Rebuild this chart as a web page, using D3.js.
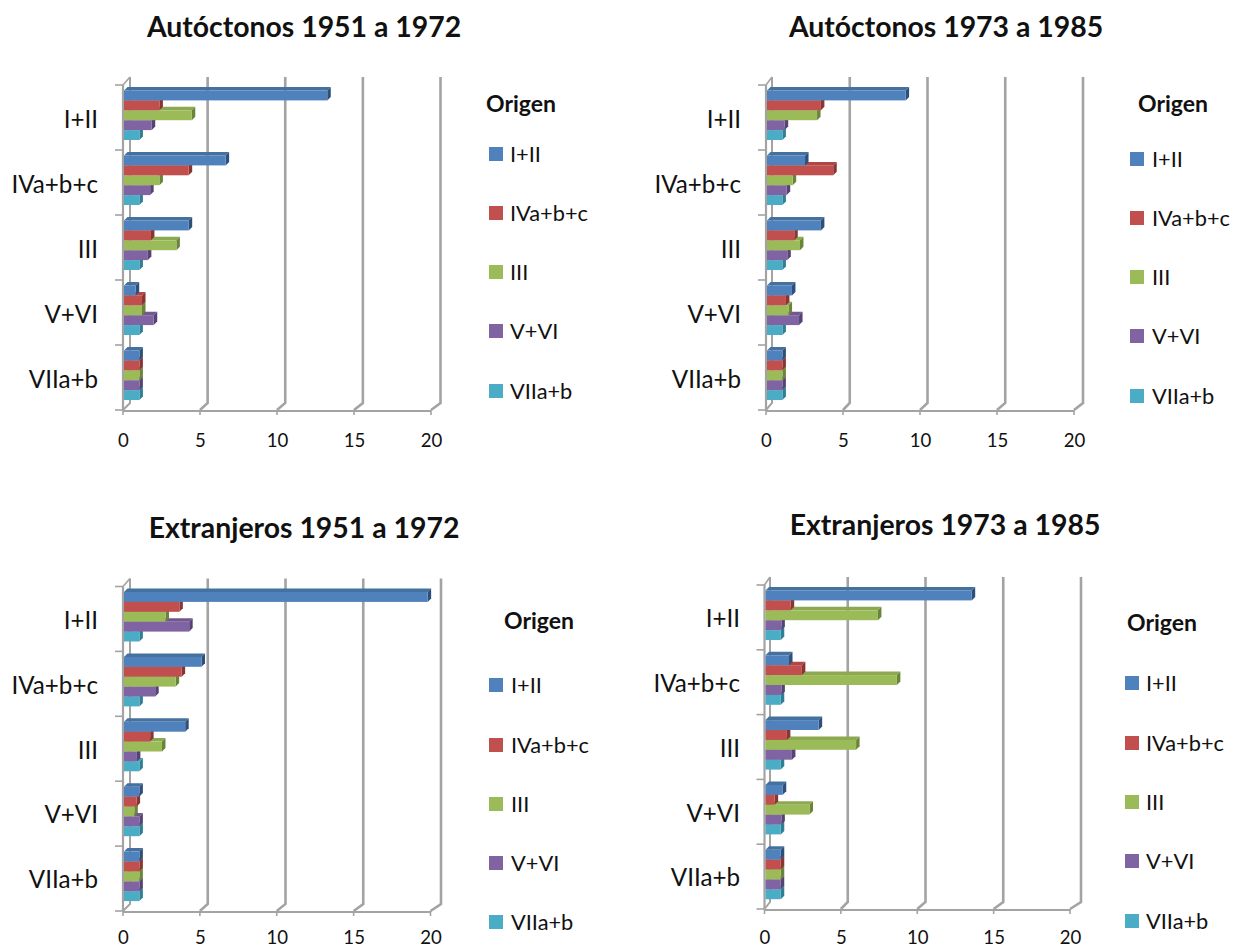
<!DOCTYPE html>
<html><head><meta charset="utf-8">
<script src="https://cdnjs.cloudflare.com/ajax/libs/d3/7.8.5/d3.min.js"></script>
<style>
html,body{margin:0;padding:0;background:#fff}
svg{display:block}
text{font-family:Lato,"Open Sans",sans-serif;fill:#111}
</style></head><body><svg id="c" width="1238" height="948"></svg>
<script>
const categories = ["I+II","IVa+b+c","III","V+VI","VIIa+b"];
const seriesNames = ["I+II","IVa+b+c","III","V+VI","VIIa+b"];
const valueTicks = [0,5,10,15,20];
const titles = ["Autóctonos 1951 a 1972","Autóctonos 1973 a 1985","Extranjeros 1951 a 1972","Extranjeros 1973 a 1985"];
const legendTitle = "Origen";
// rows = categories, columns = series
const autoctonos5172 = [[13.2,2.3,4.4,1.8,1.0],[6.6,4.2,2.3,1.7,1.0],[4.2,1.75,3.4,1.55,1.0],[0.76,1.17,1.17,1.93,1.0],[1,1,1,1,1]];
const autoctonos7385 = [[9.0,3.5,3.25,1.15,1.0],[2.47,4.3,1.67,1.28,1.0],[3.5,1.77,2.14,1.32,1.0],[1.62,1.23,1.4,2.08,1.0],[1,1,1,1,1]];
const extranjeros5172 = [[19.75,3.6,2.7,4.24,1.0],[5.04,3.75,3.36,2.03,1.0],[3.98,1.7,2.47,0.84,1.0],[1.0,0.82,0.67,1.0,1.0],[1,1,1,1,1]];
const extranjeros7385 = [[13.5,1.65,7.36,1.04,1.0],[1.54,2.38,8.6,1.04,1.0],[3.48,1.4,5.93,1.73,1.0],[1.13,0.6,2.88,1.04,1.0],[1,1,1,1,1]];
const datasets = [autoctonos5172,autoctonos7385,extranjeros5172,extranjeros7385];

const front = ["#4F81BD","#C0504D","#9BBB59","#8064A2","#4BACC6"];
const dark  = ["#2F5079","#8A3432","#6B8439","#574373","#2F7E94"];
const topc  = ["#44719F","#AE4744","#8CA951","#71598F","#43A0B8"];

const layouts = [
 {x0:123,x20:431,bx0:130,bx20:440.5,yt:85,yb:410,title:[304,27],lgT:[486,104],lgX:489,lgTx:510,lgY:[154,213,272,331,391],labR:98,labDy:2.5,tickY:447},
 {x0:766,x20:1074,bx0:772,bx20:1083,yt:85,yb:410,title:[946,27],lgT:[1138,104],lgX:1130,lgTx:1152,lgY:[159,218,277,336,396],labR:741,labDy:2.5,tickY:447},
 {x0:123,x20:430.5,bx0:130,bx20:441,yt:586.5,yb:911,title:[304,528],lgT:[504,621],lgX:489,lgTx:511,lgY:[685,745,804,863,922],labR:98,labDy:2,tickY:944},
 {x0:764.5,x20:1070,bx0:770,bx20:1081,yt:585,yb:909,title:[945,525],lgT:[1127,623],lgX:1125,lgTx:1146,lgY:[683,743,802,861,921],labR:740,labDy:2,tickY:944}
];
const svg = d3.select("#c");
const defs = svg.append("defs");
defs.append("filter").attr("id","soft").attr("x","-5%").attr("y","-5%").attr("width","110%").attr("height","110%")
  .append("feGaussianBlur").attr("stdDeviation",0.55);
const GRID="#A3A3A3";
const DEPTH=3.5;

layouts.forEach((L,pi)=>{
  const data=datasets[pi];
  const g=svg.append("g");
  const fx=d3.scaleLinear().domain([0,20]).range([L.x0,L.x20]);
  const bx=d3.scaleLinear().domain([0,20]).range([L.bx0,L.bx20]);
  const band=d3.scaleBand().domain(categories).range([L.yt,L.yb]);
  const floorBack=L.yb-7;
  const topBack=L.yt-8;

  // walls and grid
  const gg=g.append("g").attr("filter","url(#soft)").attr("fill","none").attr("stroke",GRID);
  valueTicks.forEach(t=>{
    gg.append("path").attr("stroke-width",t===0?2:2.6)
      .attr("d",d3.line()([[fx(t),L.yb],[bx(t),floorBack],[bx(t),topBack]]));
    gg.append("line").attr("x1",fx(t)).attr("x2",fx(t)).attr("y1",L.yb).attr("y2",L.yb+5).attr("stroke-width",1.6);
  });
  gg.append("line").attr("x1",fx(0)).attr("x2",fx(20)).attr("y1",L.yb+1).attr("y2",L.yb+1).attr("stroke-width",2);
  gg.append("line").attr("x1",fx(0)).attr("x2",fx(0)).attr("y1",L.yt).attr("y2",L.yb).attr("stroke-width",2.2);
  gg.append("line").attr("x1",fx(0)).attr("x2",bx(0)).attr("y1",L.yt).attr("y2",topBack).attr("stroke-width",1.6);
  const bounds=categories.map(c=>band(c)).concat([L.yb]);
  bounds.forEach(y=>gg.append("line").attr("x1",fx(0)-8).attr("x2",fx(0)).attr("y1",y).attr("y2",y).attr("stroke-width",1.6));

  // bars, lower ones first so the upper fronts overlap their top faces
  const bars=g.append("g").attr("filter","url(#soft)");
  const inner=d3.scaleBand().domain(seriesNames).range([5.5,55]);
  categories.forEach((c,ci)=>{
    for(let si=4;si>=0;si--){
      const v=data[ci][si];
      const x=fx(0)+1, xe=x+v*(fx(1)-fx(0));
      const y=band(c)+inner(seriesNames[si]), h=inner.bandwidth();
      bars.append("path").attr("fill",topc[si])
        .attr("d",d3.line()([[x,y],[x+DEPTH,y-DEPTH],[xe+DEPTH,y-DEPTH],[xe,y]])+"Z");
      bars.append("path").attr("fill",dark[si])
        .attr("d",d3.line()([[xe,y],[xe+DEPTH,y-DEPTH],[xe+DEPTH,y+h-DEPTH],[xe,y+h]])+"Z");
      bars.append("rect").attr("x",x).attr("y",y).attr("width",xe-x).attr("height",h).attr("fill",front[si]);
    }
  });

  // axes text
  const ax=g.append("g").attr("transform",`translate(0,${L.tickY})`)
    .call(d3.axisBottom(fx).tickValues(valueTicks).tickSize(0).tickPadding(0).tickFormat(d3.format("d")));
  ax.select(".domain").remove();
  ax.selectAll("text").attr("font-size",18.6).attr("dy",0).attr("y",0);
  const ay=g.append("g").attr("transform",`translate(${L.labR},${L.labDy})`)
    .call(d3.axisLeft(band).tickSize(0).tickPadding(0));
  ay.select(".domain").remove();
  ay.selectAll("text").attr("font-size",24.2);

  // title
  g.append("text").attr("x",L.title[0]).attr("y",L.title[1]).attr("dy","0.35em")
    .attr("text-anchor","middle").attr("font-weight",700).attr("font-size",28.4).text(titles[pi]);

  // legend
  g.append("text").attr("x",L.lgT[0]).attr("y",L.lgT[1]).attr("dy","0.35em")
    .attr("font-weight",700).attr("font-size",23).text(legendTitle);
  seriesNames.forEach((s,i)=>{
    g.append("rect").attr("x",L.lgX).attr("y",L.lgY[i]-7).attr("width",14).attr("height",14).attr("fill",front[i]);
    g.append("text").attr("x",L.lgTx).attr("y",L.lgY[i]).attr("dy","0.35em").attr("font-size",21.8).text(s);
  });
});
</script></body></html>
